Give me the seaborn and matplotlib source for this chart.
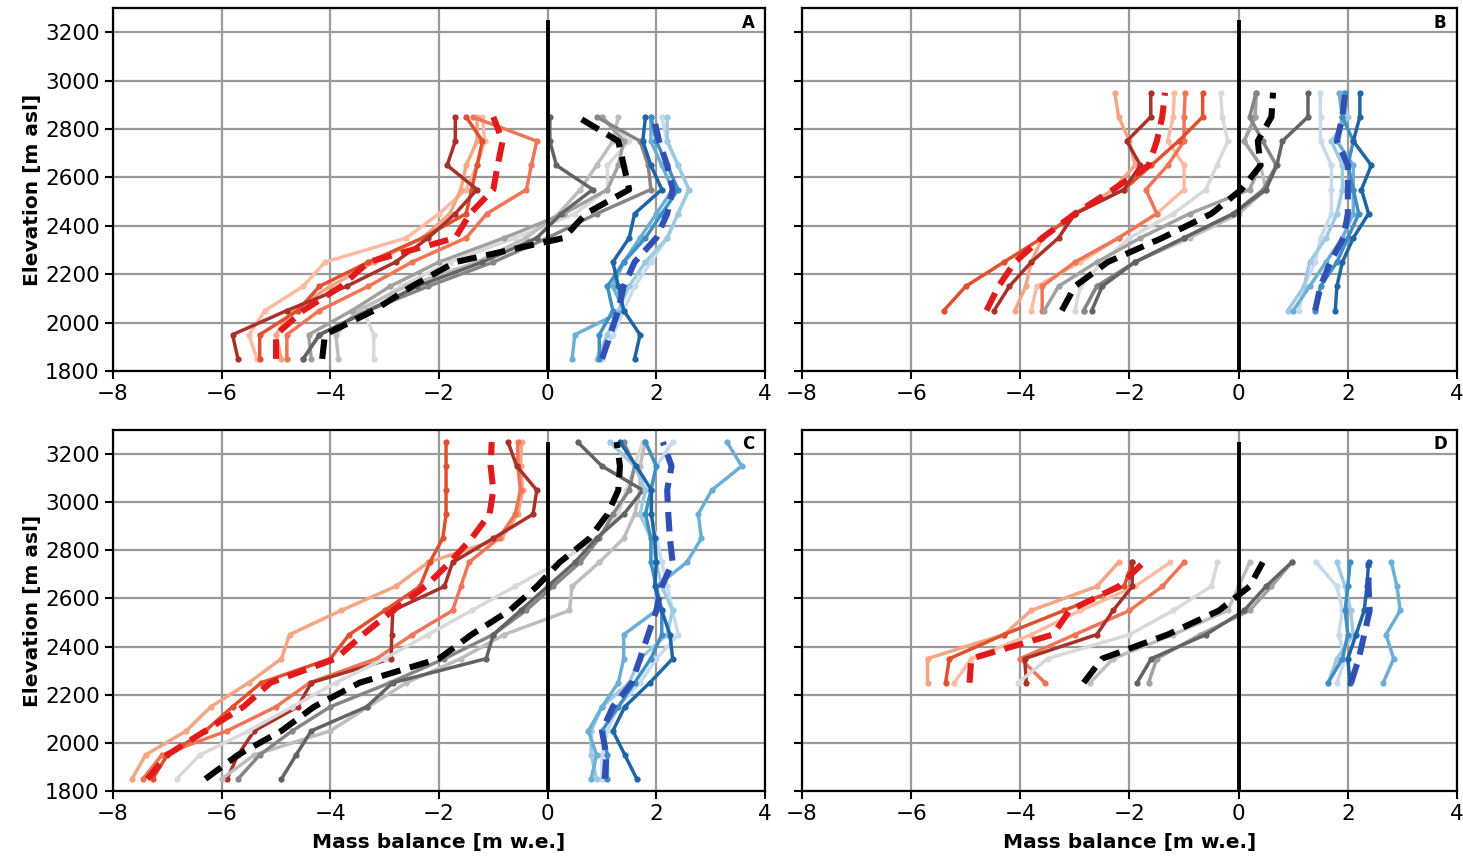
import matplotlib
matplotlib.use('Agg')
import matplotlib.pyplot as plt
import seaborn as sns

# elevation bands (m asl) per panel
elev_A = [1850, 1950, 2050, 2150, 2250, 2350, 2450, 2550, 2650, 2750, 2850]
elev_B = [2050, 2150, 2250, 2350, 2450, 2550, 2650, 2750, 2850, 2950]
elev_C = [1850, 1950, 2050, 2150, 2250, 2350, 2450, 2550, 2650, 2750, 2850, 2950, 3050, 3150, 3250]
elev_D = [2250, 2350, 2450, 2550, 2650, 2750]

red_cols = ['#fcbba1', '#f4a582', '#ef7556', '#e0502e', '#a8322a']
grey_cols = ['#d9d9d9', '#bdbdbd', '#a0a0a0', '#858585', '#636363']
blue_cols = ['#c6dbef', '#9ecae1', '#6baed6', '#3f8fc5', '#1f65a6']
red_mean_col = '#e31a1c'
grey_mean_col = 'black'
blue_mean_col = '#3050b4'

# Panel A
A_red = [
    [-5.35, -5.5, -5.2, -4.5, -4.1, -2.6, -2.0, -1.5, -1.3, -1.16, -1.2],
    [-4.9, -5.0, -4.7, -4.0, -3.2, -2.3, -1.8, -1.6, -1.5, -1.3, -1.3],
    [-4.8, -4.8, -4.2, -3.3, -2.5, -1.5, -1.12, -0.39, -0.3, -0.2, -1.38],
    [-5.3, -5.3, -4.6, -4.2, -3.3, -2.3, -1.5, -1.4, -1.3, -1.2, -1.5],
    [-5.7, -5.8, -4.8, -3.7, -2.8, -2.2, -1.7, -1.3, -1.85, -1.7, -1.7],
]
A_red_mean = [-5.0, -5.0, -4.5, -3.8, -3.3, -1.7, -1.43, -1.0, -0.92, -0.83, -1.0]
A_grey = [
    [-3.2, -3.2, -3.4, -2.7, -1.8, -0.6, 0.5, 1.1, 1.1, 1.5, 1.0],
    [-3.85, -3.9, -3.5, -2.6, -1.3, -0.4, 0.2, 0.6, 0.9, 1.2, 1.3],
    [-4.35, -4.4, -3.6, -2.9, -2.0, -0.8, 0.3, 1.1, 1.3, 1.4, 1.0],
    [-4.5, -4.2, -3.3, -2.2, -1.0, 0.0, 0.9, 1.9, 1.85, 1.7, 0.9],
    [-4.5, -4.2, -3.3, -2.4, -1.2, -0.2, 0.25, 0.83, 0.16, 0.04, 0.04],
]
A_grey_mean = [-4.15, -4.1, -3.2, -2.5, -1.7, 0.3, 0.7, 1.5, 1.4, 1.3, 0.55]
A_blue = [
    [1.0, 1.2, 1.4, 1.6, 1.9, 2.2, 2.4, 2.6, 2.4, 2.2, 2.1],
    [0.9, 1.1, 1.3, 1.5, 1.8, 2.2, 2.4, 2.6, 2.4, 2.2, 2.2],
    [0.45, 0.5, 1.4, 1.2, 1.4, 1.7, 2.0, 2.3, 2.1, 1.9, 1.9],
    [0.95, 0.95, 1.2, 1.1, 1.4, 1.8, 2.1, 2.4, 2.2, 2.0, 1.9],
    [1.6, 1.7, 1.4, 1.3, 1.2, 1.5, 1.6, 2.1, 1.9, 1.75, 1.8],
]
A_blue_mean = [1.0, 1.15, 1.3, 1.4, 1.6, 2.0, 2.2, 2.3, 2.2, 2.05, 1.95]

# Panel B
B_red = [
    [-3.8, -3.7, -2.9, -2.2, -1.5, -1.0, -1.0, -1.3, -1.2, -1.18],
    [-4.1, -3.9, -3.8, -3.6, -3.0, -2.3, -1.9, -2.0, -2.2, -2.27],
    [-3.6, -3.6, -3.0, -2.2, -1.5, -1.7, -1.3, -1.0, -1.0, -0.98],
    [-5.4, -5.0, -4.3, -3.6, -3.0, -2.1, -1.6, -1.1, -0.66, -0.66],
    [-4.48, -4.2, -3.8, -3.3, -3.0, -2.1, -1.8, -2.05, -1.61, -1.61],
]
B_red_mean = [-4.62, -4.4, -4.1, -3.6, -3.0, -2.3, -1.65, -1.5, -1.4, -1.35]
B_grey = [
    [-3.0, -2.9, -2.5, -2.0, -1.2, -0.6, -0.4, -0.2, -0.3, -0.33],
    [-2.84, -2.6, -1.9, -0.9, 0.0, 0.5, 0.4, 0.1, 0.3, 0.32],
    [-3.56, -3.3, -2.6, -1.8, -0.9, 0.2, 0.4, 0.1, 0.3, 0.32],
    [-2.84, -2.6, -1.9, -1.0, -0.1, 0.45, 0.69, 0.44, 0.2, 0.32],
    [-2.69, -2.5, -1.9, -1.0, -0.1, 0.5, 0.7, 0.8, 1.27, 1.27],
]
B_grey_mean = [-3.24, -3.0, -2.4, -1.4, -0.5, 0.05, 0.4, 0.35, 0.6, 0.63]
B_blue = [
    [1.1, 1.2, 1.4, 1.5, 1.7, 1.7, 1.7, 1.5, 1.5, 1.49],
    [0.9, 1.2, 1.3, 1.6, 1.8, 1.9, 1.9, 1.7, 2.0, 1.9],
    [1.0, 1.3, 1.6, 1.9, 2.1, 2.1, 2.1, 1.8, 1.9, 1.84],
    [1.4, 1.5, 1.8, 2.0, 2.2, 2.1, 2.0, 2.1, 1.9, 1.95],
    [1.77, 1.8, 1.9, 2.1, 2.38, 2.25, 2.43, 2.1, 2.22, 2.22],
]
B_blue_mean = [1.4, 1.5, 1.68, 1.92, 2.0, 2.0, 2.0, 1.8, 1.9, 1.95]

# Panel C
C_red = [
    [-7.65, -7.4, -6.65, -6.2, -5.5, -4.9, -4.75, -3.8, -2.8, -2.2, -0.85, -0.55, -0.46, -0.5, -0.48],
    [-7.45, -7.1, -5.9, -5.0, -4.38, -3.15, -2.49, -1.75, -1.6, -1.45, -0.9, -0.6, -0.5, -0.55, -0.55],
    [-7.27, -7.0, -6.3, -5.8, -5.27, -4.0, -3.65, -3.0, -2.35, -2.17, -1.93, -1.87, -1.87, -1.87, -1.87],
    [-5.9, -5.7, -5.4, -4.6, -4.35, -2.88, -2.87, -2.85, -1.9, -1.75, -1.0, -0.27, -0.2, -0.57, -0.73],
]
C_red_cols = red_cols[1:]
C_red_mean = [-7.37, -7.0, -6.3, -5.6, -5.1, -3.9, -3.4, -2.85, -2.25, -1.8, -1.4, -1.07, -1.0, -1.05, -1.03]
C_grey = [
    [-6.83, -6.4, -5.5, -4.7, -3.9, -3.0, -2.2, -1.4, -0.6, 0.2, 0.9, 1.3, 1.45, 1.6, 1.75],
    [-6.0, -5.4, -4.0, -3.3, -2.6, -1.6, -0.8, 0.4, 0.45, 0.95, 1.4, 1.6, 1.7, 1.7, 1.8],
    [-5.7, -5.3, -4.7, -4.0, -2.9, -1.9, -1.0, -0.4, 0.1, 0.6, 0.95, 1.2, 1.5, 1.6, 1.4],
    [-4.9, -4.63, -4.35, -3.33, -2.85, -1.13, -1.0, -0.5, 0.0, 0.5, 0.9, 1.4, 1.75, 1.0, 0.55],
]
C_grey_cols = [grey_cols[0], grey_cols[1], grey_cols[3], grey_cols[4]]
C_grey_mean = [-6.3, -5.7, -4.9, -4.3, -3.46, -2.0, -1.4, -0.7, -0.2, 0.22, 0.77, 1.1, 1.3, 1.33, 1.27]
C_blue = [
    [1.0, 1.0, 1.1, 1.3, 1.7, 2.0, 2.4, 2.3, 2.2, 2.1, 2.0, 1.9, 1.9, 2.0, 2.3],
    [0.9, 0.8, 0.8, 1.0, 1.5, 1.7, 2.2, 2.3, 2.1, 2.0, 1.9, 1.7, 1.8, 1.6, 1.14],
    [0.8, 0.9, 0.75, 1.0, 1.3, 1.4, 1.4, 2.0, 2.0, 2.56, 2.83, 2.77, 3.02, 3.57, 3.3],
    [1.1, 1.1, 1.0, 1.3, 1.6, 1.9, 2.1, 2.1, 2.0, 1.9, 1.9, 1.8, 1.9, 2.0, 1.8],
    [1.64, 1.42, 1.2, 1.42, 1.88, 2.3, 2.25, 2.1, 1.97, 2.0, 1.97, 1.91, 1.91, 1.63, 1.33],
]
C_blue_mean = [1.05, 1.08, 1.0, 1.2, 1.55, 1.7, 1.85, 2.0, 2.1, 2.3, 2.25, 2.22, 2.2, 2.28, 2.12]

# Panel D
D_red = [
    [-5.21, -4.9, -3.8, -2.9, -1.9, -1.25],
    [-5.7, -5.7, -4.3, -3.8, -2.6, -2.2],
    [-3.55, -4.0, -3.0, -2.0, -1.4, -1.0],
    [-5.37, -5.3, -4.3, -3.2, -2.1, -1.95],
    [-3.89, -3.92, -2.6, -2.3, -1.95, -1.95],
]
D_red_mean = [-4.93, -4.9, -3.4, -3.1, -2.2, -1.74]
D_grey = [
    [-4.04, -3.5, -2.0, -1.2, -0.5, -0.39],
    [-2.72, -2.3, -1.2, -0.2, 0.0, 0.2],
    [-1.65, -1.5, -0.7, 0.2, 0.6, 0.97],
    [-1.86, -1.6, -0.6, 0.1, 0.5, 0.97],
]
D_grey_cols = [grey_cols[0], grey_cols[1], grey_cols[2], grey_cols[4]]
D_grey_mean = [-2.84, -2.5, -1.3, -0.36, 0.2, 0.44]
D_blue = [
    [1.8, 1.95, 1.83, 1.9, 1.8, 1.42],
    [1.64, 1.8, 2.1, 2.05, 1.95, 1.8],
    [2.65, 2.84, 2.7, 2.96, 2.9, 2.8],
    [1.64, 1.9, 2.0, 1.95, 2.0, 2.04],
    [2.04, 2.0, 2.15, 2.3, 2.35, 2.38],
]
D_blue_mean = [2.06, 2.2, 2.3, 2.4, 2.38, 2.38]

x_ticks = [-8, -6, -4, -2, 0, 2, 4]
y_ticks = [1800, 2000, 2200, 2400, 2600, 2800, 3000, 3200]

sns.set_style('ticks', {'axes.grid': True, 'grid.color': '#999999', 'axes.edgecolor': 'black',
                        'text.color': 'black', 'axes.labelcolor': 'black',
                        'xtick.color': 'black', 'ytick.color': 'black'})
plt.rcParams['font.family'] = ['DejaVu Sans']

fig = plt.figure(figsize=(14.63, 8.63), dpi=100)
W, H = 1463, 863


def make_ax(left, top, right, bottom):
    return fig.add_axes([left / W, 1 - bottom / H, (right - left) / W, (bottom - top) / H])


axA = make_ax(113, 8, 765, 371)
axB = make_ax(802, 8, 1457, 371)
axC = make_ax(113, 430, 765, 791)
axD = make_ax(802, 430, 1457, 791)


def draw_group(ax, elev, members, cols):
    for vals, c in zip(members, cols):
        sns.lineplot(x=vals, y=elev, ax=ax, color=c, lw=2.5, marker='o', markersize=4.5,
                     markeredgewidth=0, sort=False, estimator=None, orient='y', zorder=3)


def draw_mean(ax, elev, vals, c):
    sns.lineplot(x=vals, y=elev, ax=ax, color=c, lw=4.4, linestyle=(0, (3.2, 1.6)),
                 sort=False, estimator=None, orient='y', zorder=5)


panels = [
    (axA, 'A', elev_A, A_red, red_cols, A_red_mean, A_grey, grey_cols, A_grey_mean, A_blue, blue_cols, A_blue_mean),
    (axB, 'B', elev_B, B_red, red_cols, B_red_mean, B_grey, grey_cols, B_grey_mean, B_blue, blue_cols, B_blue_mean),
    (axC, 'C', elev_C, C_red, C_red_cols, C_red_mean, C_grey, C_grey_cols, C_grey_mean, C_blue, blue_cols, C_blue_mean),
    (axD, 'D', elev_D, D_red, red_cols, D_red_mean, D_grey, D_grey_cols, D_grey_mean, D_blue, blue_cols, D_blue_mean),
]

for ax, lab, elev, reds, rc, rmean, greys, gc, gmean, blues, bc, bmean in panels:
    draw_group(ax, elev, reds, rc)
    draw_group(ax, elev, greys, gc)
    draw_group(ax, elev, blues, bc)
    draw_mean(ax, elev, rmean, red_mean_col)
    draw_mean(ax, elev, gmean, grey_mean_col)
    draw_mean(ax, elev, bmean, blue_mean_col)
    ax.vlines(0, 1800, 3250, color='black', lw=2.8, zorder=4)

    ax.set_xlim(-8, 4)
    ax.set_ylim(1800, 3300)
    ax.set_xticks(x_ticks)
    ax.set_yticks(y_ticks)
    ax.grid(True, color='#999999', lw=1.6, zorder=0)
    ax.set_axisbelow(True)
    for s in ax.spines.values():
        s.set_linewidth(1.6)
        s.set_color('black')
    ax.tick_params(labelsize=15.5, length=6, width=1.5, colors='black')
    ax.set_xlabel('')
    ax.set_ylabel('')
    ax.text(0.974, 0.96, lab, transform=ax.transAxes, ha='center', va='center',
            fontsize=12, fontweight='bold', color='black')

for ax in (axB, axD):
    ax.tick_params(labelleft=False)
for ax in (axA, axC):
    ax.set_ylabel('Elevation [m asl]', fontsize=14.5, fontweight='bold', labelpad=2, color='black')
for ax in (axC, axD):
    ax.set_xlabel('Mass balance [m w.e.]', fontsize=14.5, fontweight='bold', labelpad=6, color='black')

fig.savefig('out.png', dpi=100)
